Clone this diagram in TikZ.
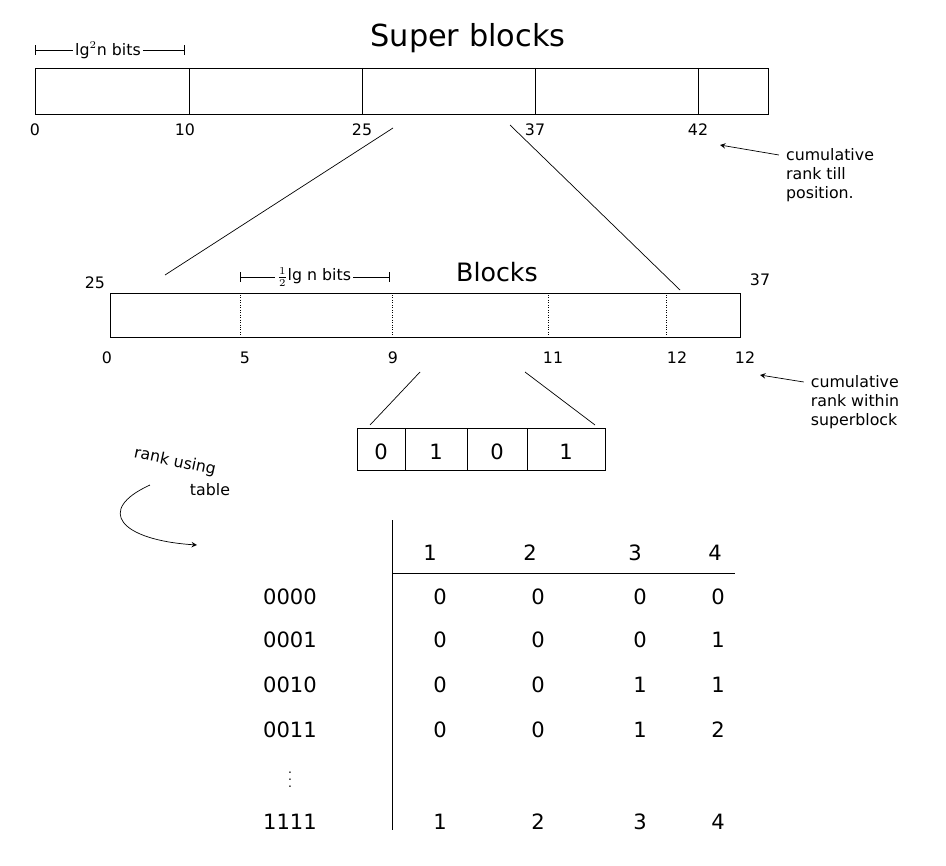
\documentclass[tikz,border=0pt]{standalone}
\usepackage{fontspec}
\setmainfont{DejaVu Sans}
\usetikzlibrary{arrows,positioning}
\begin{document}
\begin{tikzpicture}[x=0.02cm,y=-0.02cm,>=stealth]

      \tikzstyle{lbl}=[font=\small,inner sep=1pt]
      \tikzstyle{note}=[font=\small,align=left,inner sep=1pt]
      \tikzstyle{cell}=[font=\large,inner sep=1pt]
      \useasboundingbox (0,0) rectangle (946,865);

      % super blocks
      \node[font=\LARGE] (T1) at (468,38) {Super blocks};
      \draw (35,68) rectangle (768,114);
      \foreach \x in {189,362,535,698} \draw (\x,68) -- (\x,114);
      \node[lbl] (W1) at (108,50) {lg$^2$n bits};
      \coordinate (w1a) at (35,50);
      \coordinate (w1b) at (185,50);
      \draw[|-] (w1a) -- (W1.west);
      \draw[-|] (W1.east) -- (w1b);
      \foreach \x/\t in {35/0,185/10,362/25,535/37,698/42} \node[lbl] (s\t) at (\x,130) {\t};
      \node[note] (N1) at (830,175) {cumulative\\rank till\\position.};
      \coordinate (n1) at (720,145);
      \draw[->] (N1.west) ++(-5,-20) -- (n1);

      % blocks
      \node[font=\Large] (T2) at (497,272) {Blocks};
      \draw (110,293) rectangle (740,337);
      \foreach \x in {240,392,548,666} \draw[densely dotted] (\x,295) -- (\x,335);
      \node[lbl] (b25) at (95,283) {25};
      \node[lbl] (b37) at (760,280) {37};
      \node[lbl] (W2) at (314,277) {$\frac12$lg n bits};
      \coordinate (w2a) at (240,277);
      \coordinate (w2b) at (390,277);
      \draw[|-] (w2a) -- (W2.west);
      \draw[-|] (W2.east) -- (w2b);
      \foreach \x/\t/\n in {107/0/a,245/5/b,393/9/c,553/11/d,677/12/e,745/12/f} \node[lbl] (c\n) at (\x,358) {\t};
      \coordinate (z1) at (393,128);
      \coordinate (z2) at (165,275);
      \coordinate (z3) at (510,125);
      \coordinate (z4) at (680,290);
      \draw (z1) -- (z2);
      \draw (z3) -- (z4);
      \node[note] (N2) at (855,402) {cumulative\\rank within\\superblock};
      \coordinate (n2) at (760,375);
      \draw[->] (N2.west) ++(-5,-20) -- (n2);

      % one block
      \coordinate (y1) at (420,372);
      \coordinate (y2) at (370,425);
      \coordinate (y3) at (525,372);
      \coordinate (y4) at (595,425);
      \draw (y1) -- (y2);
      \draw (y3) -- (y4);
      \draw (357,428) rectangle (605,470);
      \foreach \x in {405,467,527} \draw (\x,428) -- (\x,470);
      \foreach \x/\t/\n in {381/0/a,436/1/b,497/0/c,566/1/d} \node[cell] (k\n) at (\x,452) {\t};

      % rank table
      \node[lbl,rotate=-12] (R1) at (175,462) {rank using};
      \node[lbl] (R2) at (210,490) {table};
      \coordinate (r1) at (150,485);
      \coordinate (r2) at (197,545);
      \draw[->] (r1) .. controls (95,510) and (120,540) .. (r2);
      \draw (392,520) -- (392,830);
      \draw (392,573) -- (735,573);
      \foreach \x/\t in {430/1,530/2,635/3,715/4} \node[cell] (h\t) at (\x,553) {\t};
      \foreach \y/\r/\a/\b/\c/\d in {597/0000/0/0/0/0,640/0001/0/0/0/1,685/0010/0/0/1/1,730/0011/0/0/1/2,822/1111/1/2/3/4} {
        \node[cell] (w\r) at (290,\y) {\r};
        \node[cell] at (440,\y) {\a};
        \node[cell] at (538,\y) {\b};
        \node[cell] at (640,\y) {\c};
        \node[cell] at (718,\y) {\d};
      }
      \node[font=\scriptsize,inner sep=0pt] (vd) at (290,774) {$\vdots$};
    \end{tikzpicture}
\end{document}
